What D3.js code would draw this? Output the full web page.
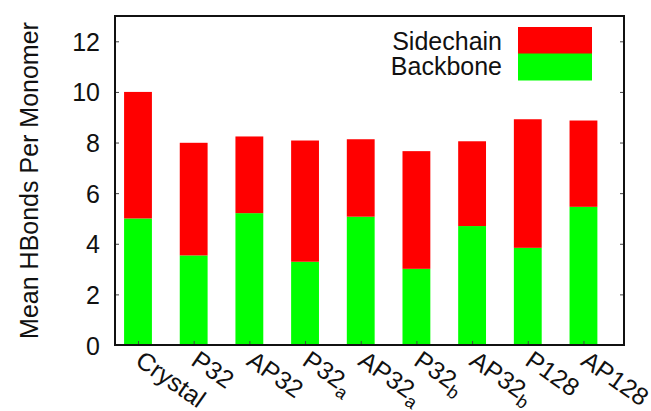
<!DOCTYPE html>
<html>
<head>
<meta charset="utf-8">
<script src="https://cdn.jsdelivr.net/npm/d3@7"></script>
<style>
  body { margin: 0; background: #fff; }
  svg text { font-family: "Liberation Sans", Arial, Helvetica, sans-serif; fill: #111; }
</style>
</head>
<body>
<div id="chart"></div>
<script>
// Data
const labels = ["Crystal", "P32", "AP32", "P32", "AP32", "P32", "AP32", "P128", "AP128"];
const subs = ["", "", "", "a", "a", "b", "b", "", ""];
const backbone = [5.0, 3.54, 5.21, 3.29, 5.07, 3.01, 4.70, 3.84, 5.46];
const total = [10.0, 7.99, 8.24, 8.08, 8.13, 7.66, 8.05, 8.92, 8.87];
const sidechain = total.map((t, i) => +(t - backbone[i]).toFixed(2));
const yTicks = [0, 2, 4, 6, 8, 10, 12];

const W = 651, H = 411;
const plot = { left: 115, right: 624, top: 16, bottom: 345 };

const svg = d3.select("#chart")
  .append("svg")
  .attr("width", W)
  .attr("height", H);

// scales
let x = d3.scaleLinear()
  .domain([-0.413, 8.728])
  .range([plot.left, plot.right]);

let y = d3.scaleLinear()
  .domain([0, 13])
  .range([plot.bottom, plot.top]);

const barW = x(0.25) - x(-0.25);

// stacked bars
let bars = svg.append("g");
labels.forEach(function (d, i) {
  bars.append("rect")
    .attr("x", x(i) - barW / 2)
    .attr("y", y(backbone[i]))
    .attr("width", barW)
    .attr("height", y(0) - y(backbone[i]))
    .style("fill", "#00ff00");
  bars.append("rect")
    .attr("x", x(i) - barW / 2)
    .attr("y", y(backbone[i] + sidechain[i]))
    .attr("width", barW)
    .attr("height", y(backbone[i]) - y(backbone[i] + sidechain[i]))
    .style("fill", "#ff0000");
});

// Y axis (left with labels, right mirrored)
let yAxis = svg.append("g")
  .attr("transform", "translate(" + plot.left + ",0)")
  .call(d3.axisLeft(y).tickValues(yTicks).tickSize(-4).tickPadding(15));
yAxis.select(".domain").remove();
yAxis.selectAll("text").style("font-size", "25px").attr("dy", "0.36em");
yAxis.selectAll("line").attr("stroke", "#444");

let yAxisR = svg.append("g")
  .attr("transform", "translate(" + plot.right + ",0)")
  .call(d3.axisRight(y).tickValues(yTicks).tickSize(-4).tickFormat(""));
yAxisR.select(".domain").remove();
yAxisR.selectAll("line").attr("stroke", "#444");

// X ticks
let xAxis = svg.append("g")
  .attr("transform", "translate(0," + plot.bottom + ")")
  .call(d3.axisBottom(x).tickValues(d3.range(labels.length)).tickSize(-4).tickFormat(""));
xAxis.select(".domain").remove();
xAxis.selectAll("line").attr("stroke", "#444");

// frame
svg.append("rect")
  .attr("x", plot.left)
  .attr("y", plot.top)
  .attr("width", plot.right - plot.left)
  .attr("height", plot.bottom - plot.top)
  .style("fill", "none")
  .style("stroke", "#111")
  .style("stroke-width", 2);

// X labels, rotated, with subscripts
labels.forEach(function (d, i) {
  let t = svg.append("text")
    .attr("transform", "translate(" + (x(i) - 4) + "," + (plot.bottom + 19) + ") rotate(35)")
    .style("font-size", "25px")
    .attr("text-anchor", "start");
  t.append("tspan").text(d);
  if (subs[i]) {
    t.append("tspan")
      .attr("dy", 6)
      .style("font-size", "18px")
      .text(subs[i]);
  }
});

// Y axis label
svg.append("text")
  .attr("text-anchor", "middle")
  .attr("transform", "translate(38," + ((plot.top + plot.bottom) / 2) + ") rotate(-90)")
  .style("font-size", "25px")
  .text("Mean HBonds Per Monomer");

// Legend
const legendItems = [
  { name: "Sidechain", color: "#ff0000" },
  { name: "Backbone", color: "#00ff00" }
];
legendItems.forEach(function (d, i) {
  svg.append("rect")
    .attr("x", 518)
    .attr("y", 27 + i * 26.5)
    .attr("width", 74)
    .attr("height", 27)
    .style("fill", d.color);
  svg.append("text")
    .attr("text-anchor", "end")
    .attr("x", 502)
    .attr("y", 50 + i * 25)
    .style("font-size", "25px")
    .text(d.name);
});
</script>
</body>
</html>
